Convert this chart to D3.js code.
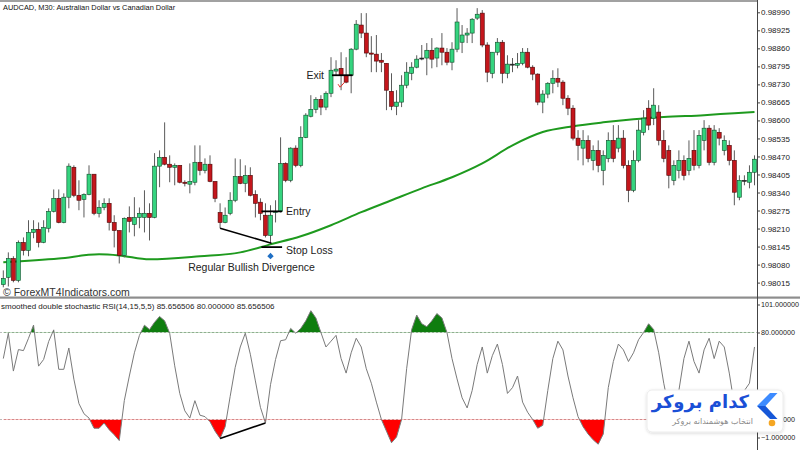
<!DOCTYPE html>
<html><head><meta charset="utf-8">
<script src="https://cdn.jsdelivr.net/npm/d3@7"></script>
<style>body{margin:0;background:#fff}svg{display:block}</style>
</head><body>
<svg id="c" width="800" height="450"></svg>
<script>
// ---------- DATA (AUDCAD M30) ----------
const open = [0.98008,0.98034,0.98102,0.98023,0.98160,0.98131,0.98196,0.98207,0.98160,0.98211,
0.98272,0.98319,0.98232,0.98323,0.98431,0.98330,0.98315,0.98333,0.98406,0.98265,
0.98286,0.98301,0.98232,0.98203,0.98113,0.98250,0.98225,0.98250,0.98250,0.98265,
0.98250,0.98435,0.98467,0.98442,0.98431,0.98438,0.98377,0.98370,0.98377,0.98449,
0.98420,0.98442,0.98380,0.98268,0.98232,0.98265,0.98312,0.98398,0.98373,0.98402,
0.98333,0.98305,0.98258,0.98185,0.98270,0.98272,0.98445,0.98384,0.98500,0.98438,
0.98539,0.98615,0.98640,0.98676,0.98648,0.98698,0.98778,0.98788,0.98763,0.98763,
0.98857,0.98944,0.98915,0.98843,0.98839,0.98817,0.98806,0.98705,0.98651,0.98666,
0.98727,0.98770,0.98792,0.98825,0.98825,0.98853,0.98825,0.98861,0.98846,0.98810,
0.98857,0.98882,0.98908,0.98915,0.98969,0.98987,0.98872,0.98770,0.98846,0.98882,
0.98770,0.98803,0.98799,0.98806,0.98846,0.98792,0.98767,0.98666,0.98695,0.98734,
0.98752,0.98738,0.98680,0.98644,0.98536,0.98500,0.98528,0.98456,0.98492,0.98420,
0.98463,0.98528,0.98500,0.98536,0.98438,0.98348,0.98456,0.98557,0.98644,0.98608,
0.98630,0.98528,0.98492,0.98384,0.98420,0.98456,0.98420,0.98492,0.98438,0.98528,
0.98572,0.98449,0.98557,0.98492,0.98510,0.98456,0.98323,0.98384,0.98377,0.98413];
const high = [0.98059,0.98124,0.98110,0.98167,0.98178,0.98240,0.98240,0.98232,0.98240,0.98283,
0.98351,0.98351,0.98337,0.98445,0.98438,0.98384,0.98337,0.98438,0.98406,0.98312,
0.98319,0.98319,0.98258,0.98203,0.98250,0.98290,0.98323,0.98286,0.98348,0.98301,
0.98482,0.98492,0.98593,0.98474,0.98445,0.98438,0.98384,0.98445,0.98510,0.98510,
0.98463,0.98474,0.98380,0.98301,0.98286,0.98341,0.98463,0.98460,0.98438,0.98431,
0.98348,0.98319,0.98301,0.98294,0.98312,0.98539,0.98449,0.98503,0.98510,0.98579,
0.98626,0.98691,0.98684,0.98691,0.98705,0.98828,0.98817,0.98846,0.98828,0.98861,
0.98962,0.98987,0.98987,0.98904,0.98908,0.98843,0.98806,0.98770,0.98709,0.98763,
0.98810,0.98810,0.98835,0.98872,0.98879,0.98897,0.98864,0.98915,0.98861,0.98882,
0.99005,0.98944,0.98933,0.98969,0.99005,0.98998,0.98882,0.98846,0.98897,0.98890,
0.98835,0.98825,0.98843,0.98861,0.98861,0.98799,0.98770,0.98709,0.98738,0.98781,
0.98788,0.98745,0.98691,0.98655,0.98565,0.98565,0.98546,0.98510,0.98528,0.98492,
0.98557,0.98583,0.98583,0.98565,0.98456,0.98492,0.98601,0.98637,0.98673,0.98716,
0.98655,0.98565,0.98510,0.98456,0.98492,0.98474,0.98528,0.98565,0.98565,0.98601,
0.98583,0.98583,0.98572,0.98546,0.98528,0.98492,0.98402,0.98402,0.98438,0.98474];
const low = [0.97998,0.98001,0.98016,0.98016,0.98113,0.98110,0.98175,0.98142,0.98157,0.98196,
0.98268,0.98229,0.98229,0.98283,0.98323,0.98276,0.98250,0.98330,0.98258,0.98250,
0.98276,0.98203,0.98142,0.98084,0.98106,0.98196,0.98182,0.98211,0.98196,0.98167,
0.98247,0.98359,0.98438,0.98377,0.98366,0.98373,0.98362,0.98337,0.98366,0.98402,
0.98409,0.98377,0.98305,0.98211,0.98229,0.98258,0.98305,0.98370,0.98341,0.98326,
0.98250,0.98240,0.98178,0.98157,0.98232,0.98268,0.98377,0.98377,0.98431,0.98431,
0.98536,0.98611,0.98626,0.98619,0.98637,0.98684,0.98763,0.98709,0.98734,0.98698,
0.98853,0.98897,0.98828,0.98774,0.98774,0.98774,0.98637,0.98637,0.98619,0.98648,
0.98716,0.98745,0.98788,0.98817,0.98763,0.98788,0.98792,0.98799,0.98799,0.98781,
0.98846,0.98843,0.98879,0.98879,0.98962,0.98864,0.98738,0.98752,0.98835,0.98734,
0.98752,0.98774,0.98788,0.98799,0.98788,0.98745,0.98655,0.98626,0.98680,0.98698,
0.98720,0.98655,0.98619,0.98528,0.98456,0.98438,0.98449,0.98420,0.98413,0.98366,
0.98449,0.98449,0.98485,0.98427,0.98305,0.98341,0.98449,0.98546,0.98565,0.98583,
0.98510,0.98449,0.98355,0.98366,0.98391,0.98384,0.98402,0.98420,0.98427,0.98492,
0.98438,0.98438,0.98510,0.98474,0.98438,0.98294,0.98312,0.98366,0.98355,0.98366];
const close = [0.98030,0.98102,0.98023,0.98160,0.98131,0.98196,0.98207,0.98160,0.98214,0.98272,
0.98319,0.98232,0.98323,0.98435,0.98330,0.98312,0.98333,0.98406,0.98265,0.98286,
0.98301,0.98232,0.98203,0.98113,0.98247,0.98236,0.98250,0.98265,0.98265,0.98250,
0.98435,0.98467,0.98442,0.98431,0.98438,0.98377,0.98373,0.98380,0.98449,0.98420,
0.98442,0.98380,0.98319,0.98232,0.98258,0.98312,0.98398,0.98373,0.98402,0.98330,
0.98301,0.98265,0.98185,0.98258,0.98272,0.98445,0.98384,0.98500,0.98438,0.98539,
0.98619,0.98640,0.98676,0.98648,0.98698,0.98781,0.98785,0.98763,0.98738,0.98857,
0.98947,0.98915,0.98843,0.98839,0.98814,0.98810,0.98709,0.98651,0.98666,0.98727,
0.98774,0.98792,0.98821,0.98825,0.98853,0.98821,0.98861,0.98846,0.98810,0.98857,
0.98955,0.98908,0.98915,0.98965,0.98983,0.98872,0.98774,0.98846,0.98882,0.98770,
0.98803,0.98803,0.98806,0.98846,0.98792,0.98767,0.98666,0.98695,0.98734,0.98752,
0.98738,0.98680,0.98644,0.98536,0.98510,0.98528,0.98463,0.98492,0.98438,0.98474,
0.98528,0.98463,0.98536,0.98438,0.98348,0.98456,0.98565,0.98608,0.98583,0.98655,
0.98528,0.98463,0.98402,0.98438,0.98456,0.98402,0.98463,0.98438,0.98546,0.98572,
0.98449,0.98565,0.98536,0.98528,0.98456,0.98341,0.98384,0.98384,0.98413,0.98460];
// smoothed double stochastic RSI, one value per bar
const stoch = [62,79.5,53.4,68.2,67.5,76,85.1,56.8,61.4,73.8,
81.8,54.6,54.6,69.3,47.8,31,24,21,14,14,
17.6,13,9.5,5.5,33,50,66,78,85,82,
87,91,88,79.5,57,38,26,21,33,23,
22,18.5,12,7,15,36,56,70,79.5,65,
46.6,28.4,17.6,44,61.4,74.3,75,82.8,79.5,82.8,
88,95,90,80,70,74,78,62,52,66,
76,70,55,45,32,20,12,4,8,20,
55,82,92,86,84,88,93,90,80,62,
48,35,28,40,58,70,52,64,72,58,
38,42,50,32,25,20,14,16,40,62,
74,68,50,35,22,15,10,6,3,10,
42,60,72,68,60,66,75,80,86,82,
66,45,28,22,40,62,74,60,52,68,
76,62,74,70,52,30,25,40,45,70];
// moving average read at sample bars
const maBar   = [1,12,20,24,30,40,48,54,60,66,72,78,84,90,96,102,108,114,120,126,132,140,146,150];
const maValue = [0.98088,0.98102,0.98117,0.98113,0.98099,0.98110,0.98124,0.98153,0.98182,0.98222,
0.98269,0.98312,0.98355,0.98395,0.98445,0.98510,0.98558,0.98579,0.98593,0.98604,0.98612,0.98619,0.98626,0.98630];
const priceTicks = ["0.98990","0.98925","0.98860","0.98795","0.98730","0.98665","0.98600","0.98535",
"0.98470","0.98405","0.98340","0.98275","0.98210","0.98145","0.98080","0.98015"];
const oscTicks = [101,80,20,-1];
const oscLevels = [80,20];
// trade annotations (bar range and price level)
const levelBars  = [[52,56],[52,56],[66,70]];
const levelPrice = [0.98272,0.98143,0.98763];
const levelText  = ["Entry","Stop Loss","Exit"];
const divBars = [44,54];          // price divergence (lows)
const oscDivBars = [44,53];       // oscillator divergence
const arrowBar = 54, arrowPrice = 0.98110;
const checkBar = 68, checkPrice = 0.98727;

// ---------- LAYOUT ----------
const svg = d3.select("#c");
const AX = 757, TOP0 = 2, TOP1 = 296, BOT0 = 299, BOT1 = 450;
const n = open.length;
const x = d3.scaleLinear().domain([1, n]).range([3.3, 754.5]);
const y = d3.scaleLinear().domain([0.98015, 0.98990]).range([282.6, 12.3]);
const yo = d3.scaleLinear().domain([-1, 101]).range([450, 302]);
const F = "'Liberation Sans', Arial, sans-serif";

const defs = svg.append("defs");
defs.append("clipPath").attr("id","cpTop").append("rect").attr("x",0).attr("y",TOP0).attr("width",AX).attr("height",TOP1-TOP0);
defs.append("clipPath").attr("id","cpBot").append("rect").attr("x",0).attr("y",BOT0).attr("width",AX).attr("height",BOT1-BOT0);
defs.append("clipPath").attr("id","cpUp").append("rect").attr("x",0).attr("y",BOT0).attr("width",AX).attr("height",yo(80)-BOT0);
defs.append("clipPath").attr("id","cpDn").append("rect").attr("x",0).attr("y",yo(20)).attr("width",AX).attr("height",BOT1-yo(20));
const sh = defs.append("filter").attr("id","shadow").attr("x","-20%").attr("y","-30%").attr("width","140%").attr("height","160%");
sh.append("feDropShadow").attr("dx",0).attr("dy",1).attr("stdDeviation",1.5).attr("flood-color","#000").attr("flood-opacity",0.15);

// frame
svg.append("line").attr("x1",0).attr("x2",AX).attr("y1",1).attr("y2",1).attr("stroke","#444").attr("stroke-width",1.2);
svg.append("rect").attr("x",0).attr("y",296.5).attr("width",800).attr("height",2.2).attr("fill","#8d8d8d");
svg.append("line").attr("x1",AX+0.5).attr("x2",AX+0.5).attr("y1",0).attr("y2",450).attr("stroke","#444").attr("stroke-width",1);

// ---------- TOP PANEL ----------
const topG = svg.append("g").attr("clip-path","url(#cpTop)");
// moving average
const maPts = maBar.map((b,i)=>[x(b), y(maValue[i])]);
topG.append("path").attr("d", d3.line().curve(d3.curveMonotoneX)(maPts))
  .attr("fill","none").attr("stroke","#1e9a1e").attr("stroke-width",2);

// candles
const bars = d3.range(n);
const cg = topG.append("g");
cg.selectAll("line.w").data(bars).join("line").attr("class","w")
  .attr("x1",i=>x(i+1)).attr("x2",i=>x(i+1))
  .attr("y1",i=>y(high[i])).attr("y2",i=>y(low[i]))
  .attr("stroke","#5a5a5a").attr("stroke-width",1);
cg.selectAll("rect").data(bars).join("rect")
  .attr("x",i=>x(i+1)-2).attr("width",4)
  .attr("y",i=>y(Math.max(open[i],close[i])))
  .attr("height",i=>Math.max(1, y(Math.min(open[i],close[i])) - y(Math.max(open[i],close[i]))))
  .attr("fill",i=>close[i]>open[i] ? "#35d47f" : (close[i]<open[i] ? "#c4161c" : "#222"))
  .attr("stroke",i=>close[i]>open[i] ? "#0e4d28" : (close[i]<open[i] ? "#4a0606" : "#222"))
  .attr("stroke-width",0.6);

// trade level lines and labels
levelBars.forEach((b,k)=>{
  const yy = y(levelPrice[k]);
  topG.append("line").attr("x1",x(b[0])+1).attr("x2",x(b[1])+1.5).attr("y1",yy).attr("y2",yy)
    .attr("stroke","#000").attr("stroke-width",1.8);
  const t = svg.append("text").attr("y",yy+(k==1?3:0)).attr("dy","0.35em")
    .attr("font-family",F).attr("font-size",10.5).attr("fill","#222").text(levelText[k]);
  if (k<2) t.attr("x",x(b[1])+5.5); else t.attr("x",x(b[0])-7).attr("text-anchor","end");
});
// divergence on price
topG.append("line").attr("x1",x(divBars[0])).attr("y1",y(low[divBars[0]-1]))
  .attr("x2",x(divBars[1])+1).attr("y2",y(low[divBars[1]-1]))
  .attr("stroke","#000").attr("stroke-width",1.6);
// blue arrow
const ax = x(arrowBar), ay = y(arrowPrice);
topG.append("path").attr("d",`M${ax},${ay-3.5} L${ax+3.2},${ay} L${ax},${ay+3} L${ax-3.2},${ay} Z`).attr("fill","#1f6fc4");
// red check
const kx = x(checkBar), ky = y(checkPrice);
topG.append("path").attr("d",`M${kx-3},${ky-1} L${kx-1},${ky+2} L${kx+3.5},${ky-3}`)
  .attr("fill","none").attr("stroke","#e0302a").attr("stroke-width",1);

svg.append("text").attr("x",x(54)-19).attr("y",267).attr("dy","0.35em").attr("text-anchor","middle")
  .attr("font-family",F).attr("font-size",10.5).attr("fill","#222").text("Regular Bullish Divergence");
svg.append("text").attr("x",3).attr("y",7.5).attr("dy","0.35em")
  .attr("font-family",F).attr("font-size",7.4).attr("fill","#111").text("AUDCAD, M30:  Australian Dollar vs Canadian Dollar");
svg.append("text").attr("x",3).attr("y",292).attr("dy","0.35em")
  .attr("font-family",F).attr("font-size",10.5).attr("fill","#333").text("© ForexMT4Indicators.com");

// price axis
const pa = svg.append("g").attr("transform",`translate(${AX},0)`)
  .call(d3.axisRight(y).tickValues(priceTicks.map(Number)).tickFormat(d3.format(".5f")).tickSize(3).tickPadding(1));
pa.select(".domain").remove();
pa.selectAll("line").attr("stroke","#444");
pa.selectAll("text").attr("font-family",F).attr("font-size",8).attr("fill","#222");

// ---------- BOTTOM PANEL ----------
const botG = svg.append("g").attr("clip-path","url(#cpBot)");
oscLevels.forEach(v=>{
  botG.append("line").attr("x1",0).attr("x2",AX).attr("y1",yo(v)).attr("y2",yo(v))
    .attr("stroke","#a8a8a8").attr("stroke-width",0.8).attr("stroke-dasharray","2,2");
});
const oPts = stoch.map((v,i)=>[x(i+1), v]);
botG.append("path").attr("clip-path","url(#cpUp)")
  .attr("d", d3.area().x(d=>d[0]).y0(yo(80)).y1(d=>yo(d[1]))(oPts)).attr("fill","#0f7d0f");
botG.append("path").attr("clip-path","url(#cpDn)")
  .attr("d", d3.area().x(d=>d[0]).y0(yo(20)).y1(d=>yo(d[1]))(oPts)).attr("fill","#ff0000");
botG.append("path").attr("d", d3.line().x(d=>d[0]).y(d=>yo(d[1]))(oPts))
  .attr("fill","none").attr("stroke","#7a7a7a").attr("stroke-width",1);
botG.append("line").attr("x1",x(oscDivBars[0])).attr("y1",yo(stoch[oscDivBars[0]-1]))
  .attr("x2",x(oscDivBars[1])).attr("y2",yo(stoch[oscDivBars[1]-1]))
  .attr("stroke","#000").attr("stroke-width",1.6);
svg.append("text").attr("x",1).attr("y",306).attr("dy","0.35em")
  .attr("font-family",F).attr("font-size",8).attr("fill","#222")
  .text("smoothed double stochastic RSI(14,15,5,5) 85.656506 80.000000 85.656506");

const oa = svg.append("g").attr("transform",`translate(${AX},0)`)
  .call(d3.axisRight(yo).tickValues(oscTicks).tickFormat(d3.format(".6f")).tickSize(3).tickPadding(1));
oa.select(".domain").remove();
oa.selectAll("line").attr("stroke","#444");
oa.selectAll("text").attr("font-family",F).attr("font-size",7.2).attr("fill","#222");
oa.selectAll(".tick").filter(d=>d===101).attr("transform",`translate(0,${yo(101)+3})`);
oa.selectAll(".tick").filter(d=>d===-1).attr("transform",`translate(0,${yo(-1)-12})`);

// ---------- WATERMARK BADGE ----------
const wm = svg.append("g");
wm.append("rect").attr("x",647).attr("y",390).attr("width",136).attr("height",42).attr("rx",5)
  .attr("fill","#fff").attr("stroke","#ececec").attr("filter","url(#shadow)");
wm.append("path").attr("d","M770,393 L777.5,393 L765.5,406 L757,406 Z").attr("fill","#3d8bff");
wm.append("path").attr("d","M757,406 L765.5,406 L777.5,419 L770,419 Z").attr("fill","#1657d8");
wm.append("circle").attr("cx",772).attr("cy",423).attr("r",3.3).attr("fill","#f5a623");
wm.append("text").attr("x",749).attr("y",402).attr("dy","0.35em").attr("text-anchor","end")
  .attr("font-family","'DejaVu Sans', sans-serif").attr("font-weight","bold").attr("font-size",18)
  .attr("fill","#1a4fd6").text("کدام بروکر");
wm.append("text").attr("x",753).attr("y",421.5).attr("dy","0.35em").attr("text-anchor","end")
  .attr("font-family","'DejaVu Sans', sans-serif").attr("font-size",8).attr("fill","#8a8a8a")
  .text("انتخاب هوشمندانه بروکر");
</script>
</body></html>
